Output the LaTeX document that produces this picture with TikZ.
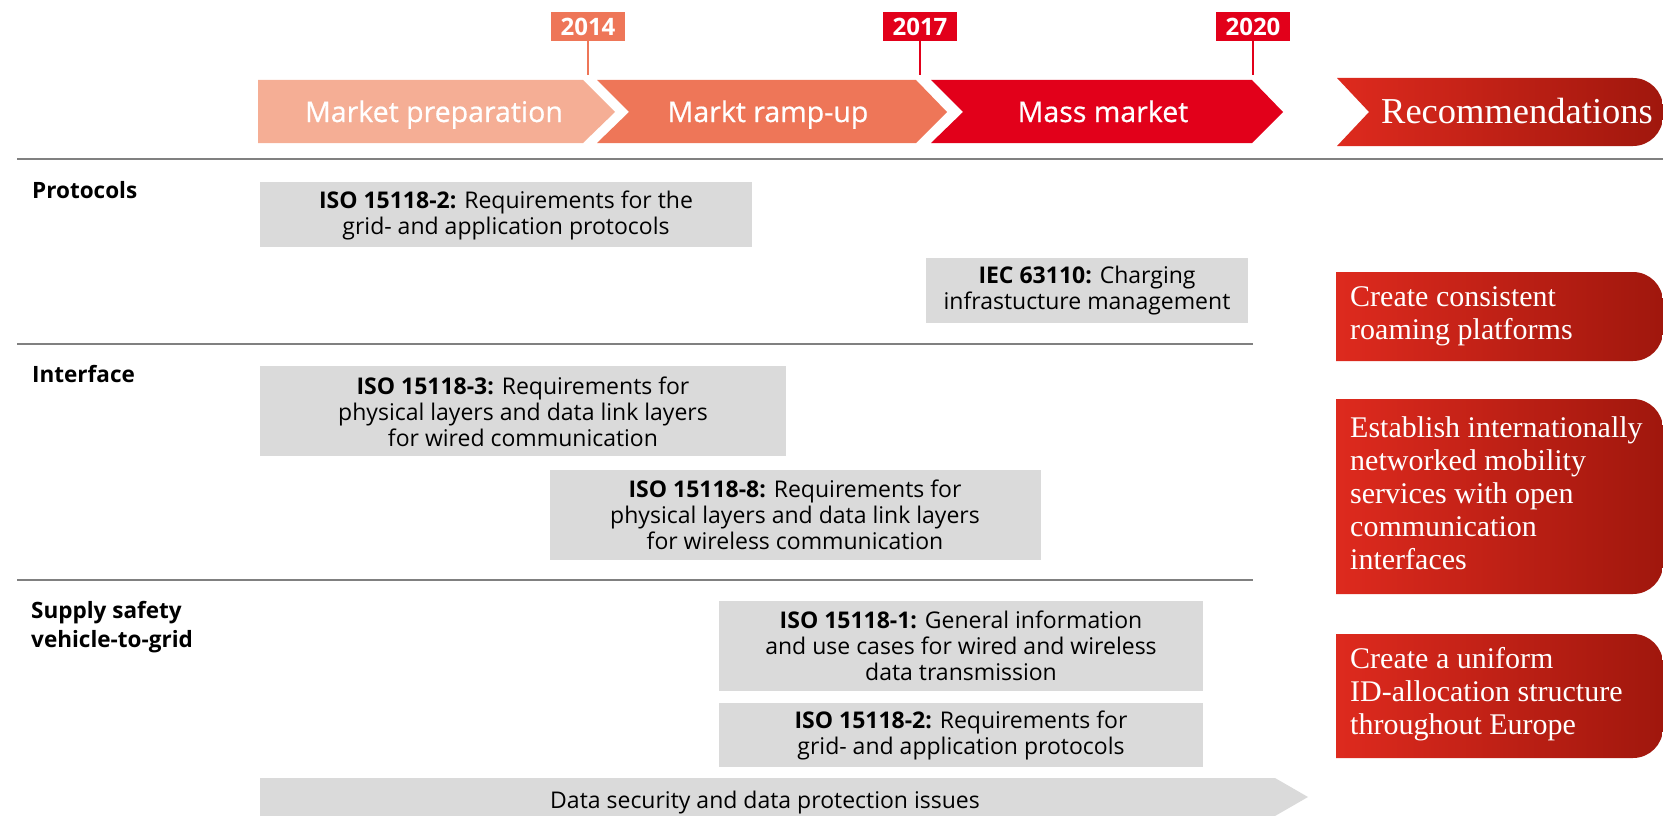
\documentclass[tikz,border=0pt]{standalone}
\usepackage{fontspec}
\setmainfont{Open Sans}
\newfontfamily\recfont{Liberation Serif}

\definecolor{prepcol}{HTML}{F5AE95}
\definecolor{rampcol}{HTML}{EE7658}
\definecolor{masscol}{HTML}{E2001A}
\definecolor{boxgray}{HTML}{DADADA}
\definecolor{rulegray}{HTML}{808080}
\definecolor{recA}{HTML}{DE2A1E}
\definecolor{recB}{HTML}{A0170D}

\tikzset{
  phase/.style={text=white, anchor=base, font=\addfontfeature{FakeBold=0.6}\fontsize{28.5}{32}\selectfont},
  yearbox/.style={text=white, inner sep=0, minimum width=74pt, minimum height=29pt, font=\bfseries\fontsize{24}{26}\selectfont},
  isotext/.style={align=center, inner sep=0, font=\fontsize{23}{26}\selectfont},
  rowlabel/.style={align=left, anchor=north west, inner sep=0, font=\bfseries\fontsize{22.5}{29}\selectfont},
  rectext/.style={align=left, anchor=west, inner sep=0, text=white, font=\recfont\fontsize{30}{33}\selectfont},
  recshade/.style={left color=recA, right color=recB},
  divider/.style={rulegray, line width=2.5pt},
}

\begin{document}
\begin{tikzpicture}[x=1pt,y=-1pt]
\useasboundingbox (0,0) rectangle (1663,816);

% phases
\fill[prepcol] (258,80) -- (583,80) -- (615,112) -- (583,143) -- (258,143) -- cycle;
\fill[rampcol] (597,80) -- (916,80) -- (947,112) -- (916,143) -- (597,143) -- (629,112) -- cycle;
\fill[masscol] (931,80) -- (1252,80) -- (1283,112) -- (1252,143) -- (931,143) -- (963,112) -- cycle;
\node[phase] (prep) at (434,122) {Market preparation};
\node[phase] (ramp) at (768,122) {Markt ramp-up};
\node[phase] (mass) at (1103,122) {Mass market};

% years
\node[yearbox, fill=rampcol] (y2014) at (588,26.5) {2014};
\node[yearbox, fill=masscol] (y2017) at (920,26.5) {2017};
\node[yearbox, fill=masscol] (y2020) at (1253,26.5) {2020};
\coordinate (t2014) at (588,75);
\coordinate (t2017) at (920,75);
\coordinate (t2020) at (1253,75);
\draw[rampcol, line width=2pt] (y2014.south) -- (t2014);
\draw[masscol, line width=2pt] (y2017.south) -- (t2017);
\draw[masscol, line width=2pt] (y2020.south) -- (t2020);

% recommendations
\shade[recshade] (1337,78) -- (1633,78) arc[start angle=-90, end angle=0, radius=30]
  -- (1663,116) arc[start angle=0, end angle=90, radius=30] -- (1337,146) -- (1369,112) -- cycle;
\node[rectext, anchor=base, font=\recfont\fontsize{36.5}{40}\selectfont] (recs) at (1517,123) {Recommendations};

% rules
\draw[divider] (17,159) -- (1663,159);
\draw[divider] (17,344) -- (1253,344);
\draw[divider] (17,580) -- (1253,580);

\node[rowlabel] (lprot) at (32,181) {Protocols};
\node[rowlabel] (lface) at (32,365) {Interface};
\node[rowlabel] (lsupp) at (31,601) {Supply safety\\vehicle-to-grid};

% standards
\fill[boxgray] (260,182) rectangle (752,247);
\node[isotext] (proto1) at (506,215) {\textbf{ISO 15118-2:} Requirements for the\\grid- and application protocols};
\fill[boxgray] (926,258) rectangle (1248,323);
\node[isotext] (proto2) at (1087,291) {\textbf{IEC 63110:} Charging\\infrastucture management};
\fill[boxgray] (260,366) rectangle (786,456);
\node[isotext] (iface1) at (523,412) {\textbf{ISO 15118-3:} Requirements for\\physical layers and data link layers\\for wired communication};
\fill[boxgray] (550,470) rectangle (1041,560);
\node[isotext] (iface2) at (795,515) {\textbf{ISO 15118-8:} Requirements for\\physical layers and data link layers\\for wireless communication};
\fill[boxgray] (719,601) rectangle (1203,691);
\node[isotext] (v2g1) at (961,646) {\textbf{ISO 15118-1:} General information\\and use cases for wired and wireless\\data transmission};
\fill[boxgray] (719,703) rectangle (1203,767);
\node[isotext] (v2g2) at (961,735) {\textbf{ISO 15118-2:} Requirements for\\grid- and application protocols};

\fill[boxgray] (260,778) -- (1275,778) -- (1308,797) -- (1275,816) -- (260,816) -- cycle;
\node[isotext, anchor=base] (datasec) at (765,808) {Data security and data protection issues};

% recommendation boxes
\shade[recshade] (1336,272) -- (1633,272) arc[start angle=-90, end angle=0, radius=30]
  -- (1663,331) arc[start angle=0, end angle=90, radius=30] -- (1336,361) -- cycle;
\node[rectext] (rec1) at (1350,316) {Create consistent\\roaming platforms};
\shade[recshade] (1336,399) -- (1633,399) arc[start angle=-90, end angle=0, radius=30]
  -- (1663,564) arc[start angle=0, end angle=90, radius=30] -- (1336,594) -- cycle;
\node[rectext] (rec2) at (1350,493) {Establish internationally\\networked mobility\\services with open\\communication\\interfaces};
\shade[recshade] (1336,634) -- (1633,634) arc[start angle=-90, end angle=0, radius=30]
  -- (1663,728) arc[start angle=0, end angle=90, radius=30] -- (1336,758) -- cycle;
\node[rectext] (rec3) at (1350,694) {Create a uniform\\ID-allocation structure\\throughout Europe};
\end{tikzpicture}
\end{document}
